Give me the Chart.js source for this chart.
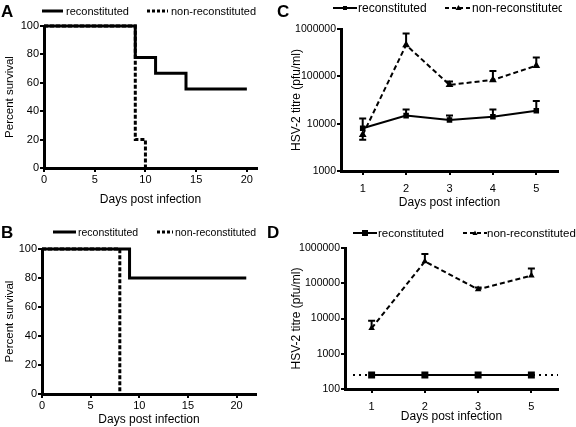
<!DOCTYPE html>
<html>
<head>
<meta charset="utf-8">
<script src="https://cdn.jsdelivr.net/npm/chart.js@4.4.0/dist/chart.umd.min.js"></script>
<style>
  body { margin: 0; background: #fff; }
  #fig { position: relative; width: 576px; height: 427px; overflow: hidden; font-family: "Liberation Sans", Arial, sans-serif; color: #000; }
  .panel { position: absolute; }
  .letter { position: absolute; font-weight: bold; font-size: 17px; line-height: 17px; }
  .leg { position: absolute; height: 12px; line-height: 12px; white-space: nowrap; overflow: hidden; }
  .leg svg { display: inline-block; vertical-align: top; }
  .leg span { display: inline-block; vertical-align: top; }
</style>
</head>
<body>
<div id="fig">
  <canvas id="chartA" class="panel" width="288" height="213" style="left:0;top:0"></canvas>
  <canvas id="chartB" class="panel" width="288" height="214" style="left:0;top:213px"></canvas>
  <canvas id="chartC" class="panel" width="288" height="213" style="left:288px;top:0"></canvas>
  <canvas id="chartD" class="panel" width="288" height="214" style="left:288px;top:213px"></canvas>

  <div class="letter" style="left:1px;top:3px">A</div>
  <div class="letter" style="left:277px;top:3px">C</div>
  <div class="letter" style="left:1px;top:224px">B</div>
  <div class="letter" style="left:267px;top:224px">D</div>

  <!-- legends -->
  <div class="leg" style="left:42px;top:5px;font-size:11px">
    <svg width="21" height="12"><line x1="0" y1="6" x2="21" y2="6" stroke="#000" stroke-width="3"/></svg><span style="margin-left:3px">reconstituted</span>
  </div>
  <div class="leg" style="left:147px;top:5px;font-size:11px">
    <svg width="21" height="12"><line x1="0" y1="6" x2="21" y2="6" stroke="#000" stroke-width="3" stroke-dasharray="3 2"/></svg><span style="margin-left:3px">non-reconstituted</span>
  </div>
  <div class="leg" style="left:53px;top:226px;font-size:10.5px">
    <svg width="23" height="12"><line x1="0" y1="6" x2="23" y2="6" stroke="#000" stroke-width="3"/></svg><span style="margin-left:2px">reconstituted</span>
  </div>
  <div class="leg" style="left:157px;top:226px;font-size:10.5px">
    <svg width="16" height="12"><line x1="0" y1="6" x2="16" y2="6" stroke="#000" stroke-width="3" stroke-dasharray="3 2"/></svg><span style="margin-left:2px">non-reconstituted</span>
  </div>
  <div class="leg" style="left:333px;top:2px;font-size:12px">
    <svg width="24" height="12"><line x1="0" y1="6" x2="24" y2="6" stroke="#000" stroke-width="2"/><rect x="10" y="4" width="4" height="4" fill="#000"/></svg><span style="margin-left:1px">reconstituted</span>
  </div>
  <div class="leg" style="left:445px;top:2px;width:117px;font-size:12px">
    <svg width="27" height="12"><line x1="0" y1="6" x2="27" y2="6" stroke="#000" stroke-width="2" stroke-dasharray="4 3"/><polygon points="13.5,3 16.5,8 10.5,8" fill="#000"/></svg><span style="margin-left:0">non-reconstituted</span>
  </div>
  <div class="leg" style="left:353px;top:227px;font-size:11.5px">
    <svg width="24" height="12"><line x1="0" y1="6" x2="24" y2="6" stroke="#000" stroke-width="2"/><rect x="9" y="3" width="6" height="6" fill="#000"/></svg><span style="margin-left:1px">reconstituted</span>
  </div>
  <div class="leg" style="left:463px;top:227px;width:113px;font-size:11.5px">
    <svg width="24" height="12"><line x1="0" y1="6" x2="24" y2="6" stroke="#000" stroke-width="2" stroke-dasharray="4 3"/><polygon points="12,3.5 14.5,8 9.5,8" fill="#000"/></svg><span style="margin-left:0">non-reconstituted</span>
  </div>
</div>

<script>
'use strict';

// survival panels (A, B)
var survTicks = [0, 20, 40, 60, 80, 100];
var aDaysRecon = [0, 9, 11, 14, 20];
var aSurvRecon = [100, 77.8, 66.7, 55.6, 55.6];
var aDaysNon = [0, 9, 10];
var aSurvNon = [100, 20, 0];
var bDaysRecon = [0, 9, 21];
var bSurvRecon = [100, 80, 80];
var bDaysNon = [0, 8];
var bSurvNon = [100, 0];

// titre panels (C, D)
var cDays = ['1', '2', '3', '4', '5'];
var cRecon = [8000, 14800, 12000, 14000, 18800];
var cReconErr = [12800, 20000, 14800, 20000, 30000];
var cNon = [5800, 460000, 66000, 84000, 168000];
var cNonErr = [4600, 800000, 78000, 130000, 250000];
var cTicks = [1000, 10000, 100000, 1000000];

var dDays = ['1', '2', '3', '5'];
var dRecon = [250, 250, 250, 250];
var dNon = [5300, 415000, 67000, 165000];
var dNonErr = [8700, 680000, 76000, 260000];
var dTicks = [100, 1000, 10000, 100000, 1000000];
var dLimit = 250;

Chart.defaults.font.family = '"Liberation Sans", Arial, sans-serif';
Chart.defaults.color = '#000';

// draws one-sided error bars from each point to the value in errTo
var errorBars = {
  id: 'errorBars',
  afterDatasetsDraw: function(chart) {
    var ctx = chart.ctx;
    var yScale = chart.scales.y;
    chart.data.datasets.forEach(function(ds, i) {
      if (!ds.errTo) return;
      var meta = chart.getDatasetMeta(i);
      ctx.save();
      ctx.strokeStyle = '#000';
      ctx.lineWidth = 2;
      ctx.setLineDash([]);
      meta.data.forEach(function(pt, j) {
        if (ds.errTo[j] == null) return;
        var end = yScale.getPixelForValue(ds.errTo[j]);
        ctx.beginPath();
        ctx.moveTo(pt.x, pt.y);
        ctx.lineTo(pt.x, end);
        ctx.moveTo(pt.x - 3.5, end);
        ctx.lineTo(pt.x + 3.5, end);
        ctx.stroke();
      });
      ctx.restore();
    });
  }
};

// dotted detection limit line across the plot
var limitLine = {
  id: 'limitLine',
  beforeDatasetsDraw: function(chart, args, opts) {
    if (opts.value == null) return;
    var ctx = chart.ctx;
    var y = chart.scales.y.getPixelForValue(opts.value);
    ctx.save();
    ctx.strokeStyle = '#000';
    ctx.lineWidth = 2;
    ctx.setLineDash([2, 4]);
    ctx.beginPath();
    ctx.moveTo(chart.chartArea.left + 8, y);
    ctx.lineTo(chart.chartArea.right, y);
    ctx.stroke();
    ctx.restore();
  }
};

function toPoints(xs, ys) {
  return xs.map(function(x, i) { return {x: x, y: ys[i]}; });
}

function axisCommon(tickSize, tickPad) {
  return {
    grid: {drawOnChartArea: false, drawTicks: true, tickLength: 4, color: '#000', lineWidth: 2, offset: false},
    border: {display: true, color: '#000', width: 3},
    ticks: {color: '#000', font: {size: tickSize}, padding: tickPad}
  };
}

function survivalChart(id, recon, non, xMax, box) {
  var xAxis = axisCommon(11, box.xPad);
  xAxis.type = 'linear';
  xAxis.min = 0;
  xAxis.max = xMax;
  xAxis.ticks.stepSize = 5;
  xAxis.ticks.includeBounds = false;
  xAxis.title = {display: true, text: 'Days post infection', color: '#000', font: {size: 12}, padding: {top: 0, bottom: box.xTitlePad}};
  xAxis.afterFit = function(s) { s.height = box.xHeight; };

  var yAxis = axisCommon(11, 1);
  yAxis.min = 0;
  yAxis.max = 100;
  yAxis.ticks.stepSize = 20;
  yAxis.afterBuildTicks = function(s) { s.ticks = survTicks.map(function(v) { return {value: v}; }); };
  yAxis.title = {display: true, text: 'Percent survival', color: '#000', font: {size: 11.5}, padding: {top: 3, bottom: 0}};
  yAxis.afterFit = function(s) { s.width = box.left; };

  return new Chart(document.getElementById(id), {
    type: 'line',
    data: {
      datasets: [{
        label: 'reconstituted',
        data: recon,
        borderColor: '#000',
        borderWidth: 3,
        stepped: true,
        pointRadius: 0,
        clip: 4
      }, {
        label: 'non-reconstituted',
        data: non,
        borderColor: '#000',
        borderWidth: 3,
        borderDash: [4, 2],
        stepped: true,
        pointRadius: 0,
        clip: 4
      }]
    },
    options: {
      responsive: false,
      animation: false,
      layout: {padding: {left: 0, top: box.top, right: box.right, bottom: 0}},
      plugins: {legend: {display: false}, tooltip: {enabled: false}},
      scales: {x: xAxis, y: yAxis}
    }
  });
}

function titreChart(id, days, recon, reconErr, non, nonErr, ticks, box) {
  var xAxis = axisCommon(11, box.xPad);
  xAxis.type = 'category';
  xAxis.offset = true;
  xAxis.title = {display: true, text: 'Days post infection', color: '#000', font: {size: 12}, padding: {top: 0, bottom: box.xTitlePad}};
  xAxis.afterFit = function(s) { s.height = box.xHeight; };

  var yAxis = axisCommon(10.5, 1);
  yAxis.type = 'logarithmic';
  yAxis.min = ticks[0];
  yAxis.max = ticks[ticks.length - 1];
  yAxis.afterBuildTicks = function(s) { s.ticks = ticks.map(function(v) { return {value: v}; }); };
  yAxis.ticks.callback = function(v) { return String(v); };
  yAxis.title = {display: true, text: 'HSV-2 titre (pfu/ml)', color: '#000', font: {size: 12}, padding: {top: 1, bottom: 0}};
  yAxis.afterFit = function(s) { s.width = box.left; };

  return new Chart(document.getElementById(id), {
    type: 'line',
    data: {
      labels: days,
      datasets: [{
        label: 'reconstituted',
        data: recon,
        errTo: reconErr,
        borderColor: '#000',
        backgroundColor: '#000',
        borderWidth: 2,
        pointStyle: 'rect',
        pointRadius: box.squareR,
        tension: 0,
        clip: 6
      }, {
        label: 'non-reconstituted',
        data: non,
        errTo: nonErr,
        borderColor: '#000',
        backgroundColor: '#000',
        borderWidth: 2,
        borderDash: [5, 3],
        pointStyle: 'triangle',
        pointRadius: box.triR,
        tension: 0,
        clip: 6
      }]
    },
    options: {
      responsive: false,
      animation: false,
      layout: {padding: {left: 0, top: box.top, right: box.right, bottom: 0}},
      plugins: {legend: {display: false}, tooltip: {enabled: false}, limitLine: {value: box.limit}},
      scales: {x: xAxis, y: yAxis}
    },
    plugins: [errorBars, limitLine]
  });
}

survivalChart('chartA', toPoints(aDaysRecon, aSurvRecon), toPoints(aDaysNon, aSurvNon), 21,
  {left: 44, right: 31, top: 26, xHeight: 45, xPad: 1, xTitlePad: 6});
survivalChart('chartB', toPoints(bDaysRecon, bSurvRecon), toPoints(bDaysNon, bSurvNon), 22,
  {left: 42, right: 32, top: 36, xHeight: 33, xPad: 1, xTitlePad: 0});
titreChart('chartC', cDays, cRecon, cReconErr, cNon, cNonErr, cTicks,
  {left: 53, right: 18, top: 29, xHeight: 42, xPad: 7, xTitlePad: 3, squareR: 2.5, triR: 2.5, limit: null});
titreChart('chartD', dDays, dRecon, null, dNon, dNonErr, dTicks,
  {left: 57, right: 18, top: 35, xHeight: 38, xPad: 7, xTitlePad: 3, squareR: 3.5, triR: 1.8, limit: dLimit});
</script>
</body>
</html>
